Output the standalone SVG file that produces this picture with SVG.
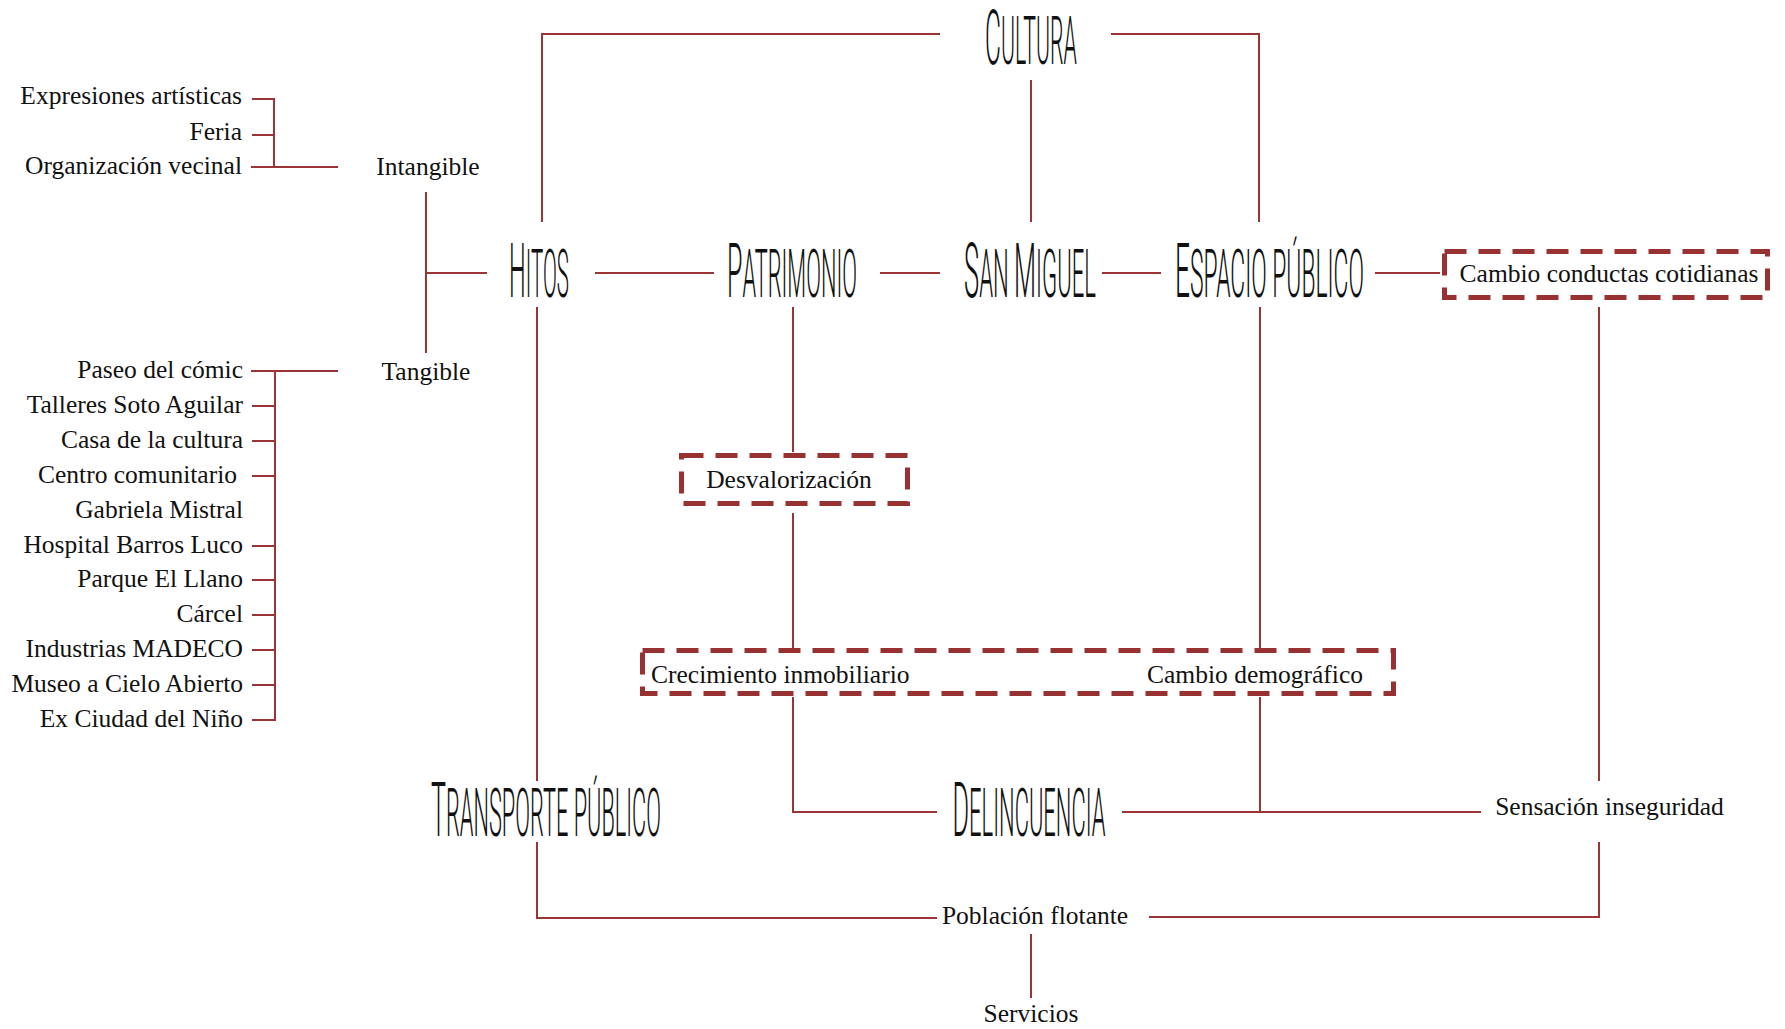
<svg xmlns="http://www.w3.org/2000/svg" width="1785" height="1029" viewBox="0 0 1785 1029">
<style>
.ln{fill:none;stroke:#9b3535;stroke-width:2}
.dash{fill:none;stroke:#983232;stroke-width:5;stroke-dasharray:22 12}
.t{font-family:"Liberation Serif","Times New Roman",serif;font-size:25.5px;fill:#111}
.e{text-anchor:end}
.m{text-anchor:middle}
.h{font-family:Roboto,"Liberation Sans",sans-serif;font-weight:300;font-size:76px;fill:#111;text-anchor:middle}
.sc{font-size:66px;text-transform:uppercase}
</style>
<rect width="1785" height="1029" fill="#fff"/>
<g id="connectors">
<polyline class="ln" points="940,34 542,34 542,222"/>
<polyline class="ln" points="1111,34 1259,34 1259,222"/>
<line class="ln" x1="1031" y1="80" x2="1031" y2="222"/>
<line class="ln" x1="595" y1="273" x2="714" y2="273"/>
<line class="ln" x1="880" y1="273" x2="940" y2="273"/>
<line class="ln" x1="1102" y1="273" x2="1161" y2="273"/>
<line class="ln" x1="1375" y1="273" x2="1440" y2="273"/>
<line class="ln" x1="487" y1="273" x2="426" y2="273"/>
<line class="ln" x1="426" y1="192" x2="426" y2="353"/>
<line class="ln" x1="338" y1="167" x2="251" y2="167"/>
<polyline class="ln" points="252,99 274,99 274,167"/>
<line class="ln" x1="252" y1="135" x2="274" y2="135"/>
<line class="ln" x1="338" y1="371" x2="251" y2="371"/>
<line class="ln" x1="275" y1="371" x2="275" y2="721"/>
<path class="ln" d="M252,406H275M252,441H275M252,476H275M252,546H275M252,580H275M252,615H275M252,650H275M252,685H275M252,720H275"/>
<line class="ln" x1="537" y1="307" x2="537" y2="781"/>
<polyline class="ln" points="537,842 537,918 937,918"/>
<polyline class="ln" points="1149,917 1599,917 1599,842"/>
<line class="ln" x1="1599" y1="307" x2="1599" y2="781"/>
<line class="ln" x1="1031" y1="934" x2="1031" y2="998"/>
<line class="ln" x1="793" y1="307" x2="793" y2="452"/>
<line class="ln" x1="793" y1="513" x2="793" y2="650"/>
<polyline class="ln" points="793,697 793,812 937,812"/>
<line class="ln" x1="1260" y1="307" x2="1260" y2="650"/>
<line class="ln" x1="1260" y1="697" x2="1260" y2="812"/>
<line class="ln" x1="1122" y1="812" x2="1481" y2="812"/>
</g>
<g id="cultura"><text class="h" transform="translate(1031,64) scale(0.32,1)" textLength="287" lengthAdjust="spacingAndGlyphs">C<tspan class="sc">ultura</tspan></text></g>
<g id="hitos"><text class="h" transform="translate(539,297) scale(0.32,1)" textLength="187" lengthAdjust="spacingAndGlyphs">H<tspan class="sc">itos</tspan></text></g>
<g id="patrimonio"><text class="h" transform="translate(792,297) scale(0.32,1)" textLength="406" lengthAdjust="spacingAndGlyphs">P<tspan class="sc">atrimonio</tspan></text></g>
<g id="san-miguel"><text class="h" transform="translate(1030,297) scale(0.32,1)" textLength="412" lengthAdjust="spacingAndGlyphs">S<tspan class="sc">an </tspan>M<tspan class="sc">iguel</tspan></text></g>
<g id="espacio-publico"><text class="h" transform="translate(1269.5,297) scale(0.32,1)" textLength="590" lengthAdjust="spacingAndGlyphs">E<tspan class="sc">spacio público</tspan></text></g>
<g id="transporte-publico"><text class="h" transform="translate(546,836) scale(0.32,1)" textLength="719" lengthAdjust="spacingAndGlyphs">T<tspan class="sc">ransporte público</tspan></text></g>
<g id="delincuencia"><text class="h" transform="translate(1029,836) scale(0.32,1)" textLength="478" lengthAdjust="spacingAndGlyphs">D<tspan class="sc">elincuencia</tspan></text></g>
<g id="cambio-conductas">
<rect class="dash" x="1444.5" y="251.5" width="323" height="46"/>
<text class="t m" x="1609" y="282">Cambio conductas cotidianas</text>
</g>
<g id="desvalorizacion">
<rect class="dash" x="681.5" y="455.5" width="226" height="48"/>
<text class="t m" x="789" y="488">Desvalorización</text>
</g>
<g id="crecimiento-cambio">
<rect class="dash" x="642.5" y="650.5" width="751" height="43"/>
<text class="t" x="651" y="683">Crecimiento inmobiliario</text>
<text class="t e" x="1363" y="683">Cambio demográfico</text>
</g>
<g id="intangible">
<text class="t m" x="428" y="175">Intangible</text>
<text class="t e" x="242" y="104">Expresiones artísticas</text>
<text class="t e" x="242" y="140">Feria</text>
<text class="t e" x="242" y="174">Organización vecinal</text>
</g>
<g id="tangible">
<text class="t m" x="426" y="380">Tangible</text>
<text class="t e" x="243" y="378">Paseo del cómic</text>
<text class="t e" x="243" y="413">Talleres Soto Aguilar</text>
<text class="t e" x="243" y="448">Casa de la cultura</text>
<text class="t e" x="237" y="483">Centro comunitario</text>
<text class="t e" x="243" y="518">Gabriela Mistral</text>
<text class="t e" x="243" y="553">Hospital Barros Luco</text>
<text class="t e" x="243" y="587">Parque El Llano</text>
<text class="t e" x="243" y="622">Cárcel</text>
<text class="t e" x="243" y="657">Industrias MADECO</text>
<text class="t e" x="243" y="692">Museo a Cielo Abierto</text>
<text class="t e" x="243" y="727">Ex Ciudad del Niño</text>
</g>
<g id="sensacion"><text class="t m" x="1609.5" y="815">Sensación inseguridad</text></g>
<g id="poblacion"><text class="t m" x="1035" y="924">Población flotante</text></g>
<g id="servicios"><text class="t m" x="1031" y="1022">Servicios</text></g>
</svg>
